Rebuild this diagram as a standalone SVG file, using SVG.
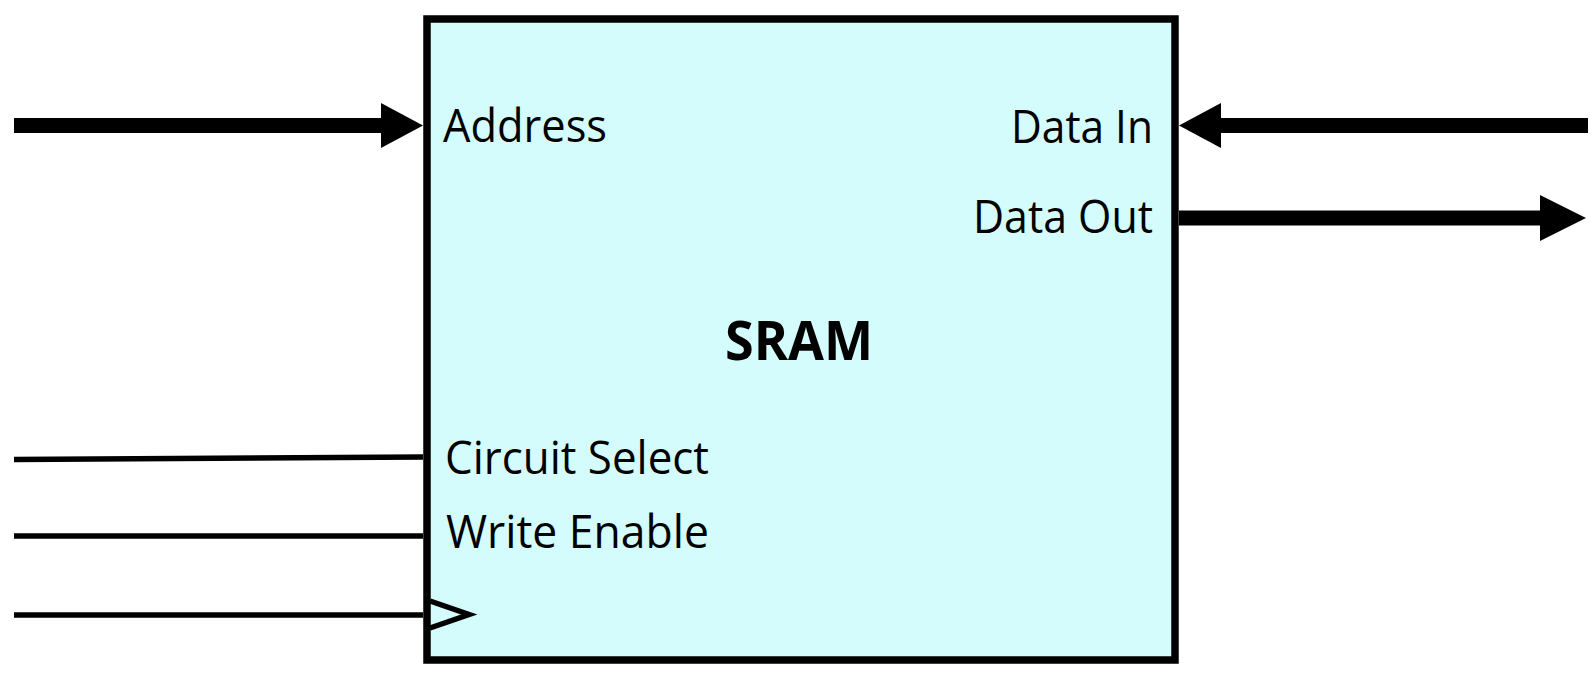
<svg xmlns="http://www.w3.org/2000/svg" width="1594" height="678" viewBox="0 0 1594 678">
<style>
.lbl{font-family:"Open Sans","Noto Sans",sans-serif;font-size:45px;font-weight:500;fill:#000}
.title{font-family:"Open Sans","Noto Sans",sans-serif;font-size:53px;font-weight:bold;fill:#000}
.bus{stroke:#000;stroke-width:15;fill:none}
.wire{stroke:#000;stroke-width:5.5;fill:none}
.head{fill:#000;stroke:none}
</style>
<rect width="1594" height="678" fill="#fff"/>
<g id="sram">
<rect x="427" y="19" width="748" height="641" fill="#d4fcfc" stroke="#000" stroke-width="7.5"/>
<text class="title" x="799" y="360" text-anchor="middle" textLength="148" lengthAdjust="spacingAndGlyphs">SRAM</text>
<text class="lbl" x="443" y="142" textLength="164" lengthAdjust="spacingAndGlyphs">Address</text>
<text class="lbl" x="1153" y="142.5" text-anchor="end" textLength="142" lengthAdjust="spacingAndGlyphs">Data In</text>
<text class="lbl" x="1153" y="232.5" text-anchor="end" textLength="180" lengthAdjust="spacingAndGlyphs">Data Out</text>
<text class="lbl" x="445" y="473.5" textLength="264" lengthAdjust="spacingAndGlyphs">Circuit Select</text>
<text class="lbl" x="446" y="548" textLength="263" lengthAdjust="spacingAndGlyphs">Write Enable</text>
<polyline class="wire" points="430,601 469,614.5 430,628" stroke-linejoin="miter"/>
</g>
<g id="connectors">
<line class="bus" x1="14" y1="125.5" x2="385" y2="125.5"/>
<polygon class="head" points="381,103 423,125.5 381,148"/>
<line class="bus" x1="1217" y1="125.5" x2="1588" y2="125.5"/>
<polygon class="head" points="1221,103 1179,125.5 1221,148"/>
<line class="bus" x1="1179" y1="218" x2="1544" y2="218"/>
<polygon class="head" points="1540,195 1586,218 1540,241"/>
<line class="wire" x1="14" y1="459.5" x2="423" y2="457"/>
<line class="wire" x1="14" y1="536" x2="423" y2="536"/>
<line class="wire" x1="14" y1="615" x2="423" y2="615"/>
</g>
</svg>
